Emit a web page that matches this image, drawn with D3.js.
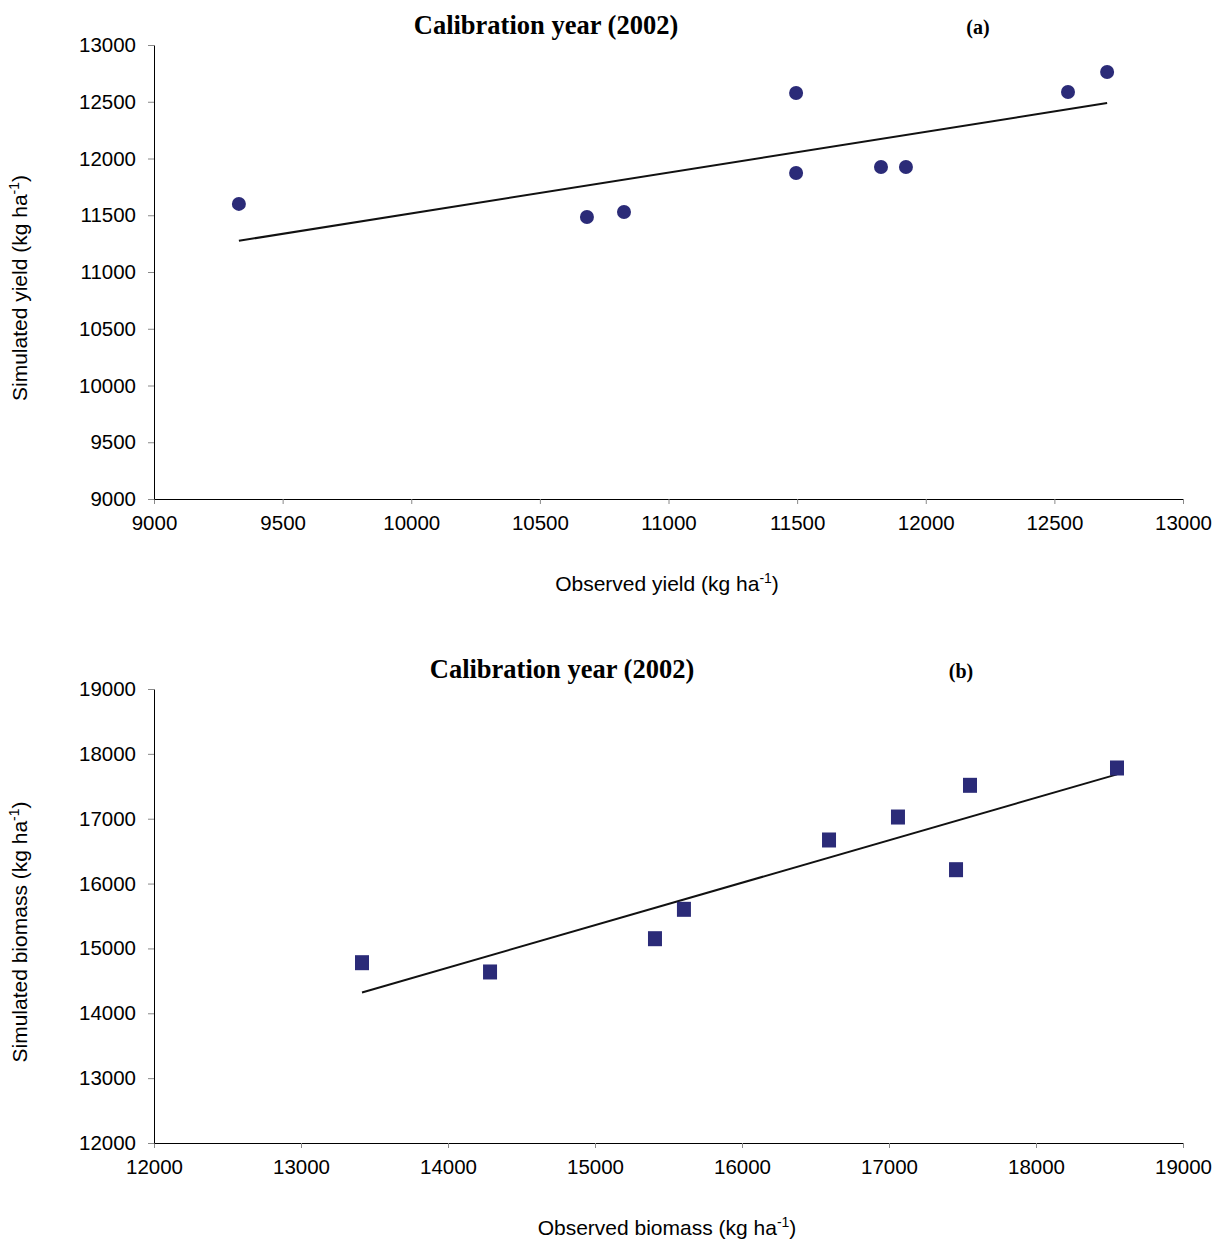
<!DOCTYPE html>
<html>
<head>
  <meta charset="UTF-8">
  <title>Calibration year (2002)</title>
  <script src="https://cdn.jsdelivr.net/npm/d3@7"></script>
  <style>
    body { margin: 0; background: #fff; }
    text { font-family: "Liberation Sans", Arial, sans-serif; }
    .tick text { font-size: 20.5px; fill: #000; }
    .tick line { stroke: #888; }
    .domain { stroke: #000; }
    .title { font-family: "Liberation Serif", "Times New Roman", serif; font-weight: bold; }
  </style>
</head>
<body>
<script>
  // panel (a): yield
  var obsYield = [9330, 10683, 10827, 11496, 11496, 11826, 11923, 12553, 12705];
  var simYield = [11600, 11485, 11529, 12577, 11872, 11925, 11925, 12586, 12762];
  var yieldTicksX = [9000, 9500, 10000, 10500, 11000, 11500, 12000, 12500, 13000];
  var yieldTicksY = [9000, 9500, 10000, 10500, 11000, 11500, 12000, 12500, 13000];

  // panel (b): biomass
  var obsBiomass = [13415, 14286, 15408, 15605, 16592, 17061, 17456, 17551, 18551];
  var simBiomass = [14780, 14637, 15150, 15603, 16672, 17026, 16214, 17515, 17782];
  var biomassTicksX = [12000, 13000, 14000, 15000, 16000, 17000, 18000, 19000];
  var biomassTicksY = [12000, 13000, 14000, 15000, 16000, 17000, 18000, 19000];

  var width = 1214, height = 1239;
  var navy = "#2b2b78";

  var svg = d3.select("body").append("svg")
    .attr("width", width)
    .attr("height", height);

  // least squares line through the points
  function fit(xs, ys) {
    var mx = d3.mean(xs), my = d3.mean(ys);
    var sxy = d3.sum(xs, function (x, i) { return (x - mx) * (ys[i] - my); });
    var sxx = d3.sum(xs, function (x) { return (x - mx) * (x - mx); });
    var b = sxy / sxx;
    return { a: my - b * mx, b: b };
  }

  function panel(opt) {
    var x = d3.scaleLinear().domain(d3.extent(opt.ticksX)).range([154, 1183]);
    var y = d3.scaleLinear().domain(d3.extent(opt.ticksY)).range([opt.bottom, opt.top]);

    var g = svg.append("g");

    g.append("g")
      .attr("transform", "translate(0," + opt.bottom + ")")
      .call(d3.axisBottom(x).tickValues(opt.ticksX).tickFormat(d3.format("d"))
        .tickSizeInner(5).tickSizeOuter(0).tickPadding(11));

    g.append("g")
      .attr("transform", "translate(154,0)")
      .call(d3.axisLeft(y).tickValues(opt.ticksY).tickFormat(d3.format("d"))
        .tickSizeInner(6).tickSizeOuter(0).tickPadding(12));

    // trend line
    var f = fit(opt.xs, opt.ys);
    var x0 = d3.min(opt.xs), x1 = d3.max(opt.xs);
    g.append("line")
      .attr("x1", x(x0)).attr("y1", y(f.a + f.b * x0))
      .attr("x2", x(x1)).attr("y2", y(f.a + f.b * x1))
      .attr("stroke", "#111")
      .attr("stroke-width", 2);

    var pts = opt.xs.map(function (d, i) { return [d, opt.ys[i]]; });
    if (opt.shape === "circle") {
      g.selectAll(".pt").data(pts).enter().append("circle")
        .attr("cx", function (d) { return x(d[0]); })
        .attr("cy", function (d) { return y(d[1]); })
        .attr("r", 7)
        .attr("fill", navy);
    } else {
      g.selectAll(".pt").data(pts).enter().append("rect")
        .attr("x", function (d) { return x(d[0]) - 7; })
        .attr("y", function (d) { return y(d[1]) - 7.5; })
        .attr("width", 14)
        .attr("height", 15)
        .attr("fill", navy);
    }

    g.append("text")
      .attr("class", "title")
      .attr("x", opt.titleX).attr("y", opt.top - 11)
      .attr("text-anchor", "middle")
      .attr("font-size", 26.5)
      .text("Calibration year (2002)");

    g.append("text")
      .attr("class", "title")
      .attr("x", opt.tagX).attr("y", opt.top - 11)
      .attr("text-anchor", "middle")
      .attr("font-size", 20)
      .text(opt.tag);

    var xl = g.append("text")
      .attr("x", 667).attr("y", opt.bottom + 92)
      .attr("text-anchor", "middle")
      .attr("font-size", 21);
    xl.append("tspan").text(opt.xLabel + " (kg ha");
    xl.append("tspan").attr("dy", -8).attr("font-size", 14).text("-1");
    xl.append("tspan").attr("dy", 8).text(")");

    var yl = g.append("text")
      .attr("transform", "translate(27," + ((opt.top + opt.bottom) / 2 + 16) + ") rotate(-90)")
      .attr("text-anchor", "middle")
      .attr("font-size", 21);
    yl.append("tspan").text(opt.yLabel + " (kg ha");
    yl.append("tspan").attr("dy", -8).attr("font-size", 14).text("-1");
    yl.append("tspan").attr("dy", 8).text(")");
  }

  panel({
    xs: obsYield, ys: simYield, ticksX: yieldTicksX, ticksY: yieldTicksY,
    top: 45, bottom: 499, shape: "circle",
    titleX: 546, tagX: 978, tag: "(a)",
    xLabel: "Observed yield", yLabel: "Simulated yield"
  });

  panel({
    xs: obsBiomass, ys: simBiomass, ticksX: biomassTicksX, ticksY: biomassTicksY,
    top: 689, bottom: 1143, shape: "square",
    titleX: 562, tagX: 961, tag: "(b)",
    xLabel: "Observed biomass", yLabel: "Simulated biomass"
  });
</script>
</body>
</html>
